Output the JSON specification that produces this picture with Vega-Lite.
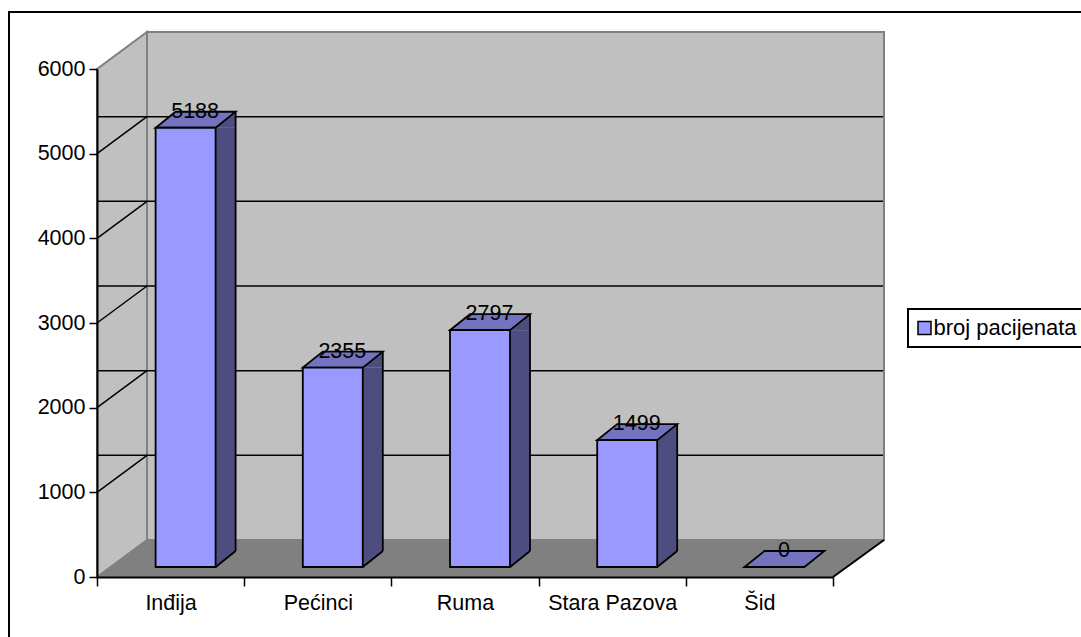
{
"$schema":"https://vega.github.io/schema/vega-lite/v6.json",
"width":736,"height":508,
"autosize":{"type":"none"},
"padding":{"left":97,"top":69,"right":248,"bottom":60},
"background":"#ffffff",
"config":{"view":{"stroke":null},"font":"Liberation Sans","text":{"font":"Liberation Sans"},"legend":{"strokeWidth":2}},
"datasets":{
"bars":[{"opstina":"Inđija","broj":5188},{"opstina":"Pećinci","broj":2355},{"opstina":"Ruma","broj":2797},{"opstina":"Stara Pazova","broj":1499},{"opstina":"Šid","broj":0}],
"ticks":[{"tick":1000},{"tick":2000},{"tick":3000},{"tick":4000},{"tick":5000}],
"base":[{"level":0,"top":6000}]
},
"layer":[
{"data":{"name":"base"},"mark":{"type":"point","shape":"M-88,100 L-88,-565 L1000,-565","size":4,"filled":false,"stroke":"#000000","strokeWidth":2,"opacity":1},
 "encoding":{"x":{"datum":"Inđija","type":"nominal","bandPosition":0,"scale":{"type":"band","domain":["Inđija","Pećinci","Ruma","Stara Pazova","Šid"],"paddingInner":0,"paddingOuter":0},
   "axis":{"title":null,"tickBand":"extent","domainColor":"#000000","domainWidth":2,"tickColor":"#000000","tickWidth":1.5,"tickSize":9,"labelFont":"Liberation Sans","labelFontSize":21.5,"labelColor":"#000000","labelPadding":6,"labelAngle":0,"grid":false,"zindex":1}},
  "y":{"datum":0,"type":"quantitative","scale":{"domain":[0,6000],"nice":false},
   "axis":{"title":null,"format":"d","values":[0,1000,2000,3000,4000,5000,6000],"domainColor":"#000000","domainWidth":2,"tickColor":"#000000","tickWidth":1.5,"tickSize":8,"labelFont":"Liberation Sans","labelFontSize":21.5,"labelColor":"#000000","labelPadding":4,"grid":false,"zindex":1}}}},
{"data":{"name":"base"},"mark":{"type":"point","shape":"M50,-37 L787,-37 L787,-545 L50,-545 Z","size":4,"filled":true,"fill":"#C0C0C0","stroke":"#808080","strokeWidth":2,"opacity":1},
 "encoding":{"x":{"datum":"Inđija","type":"nominal","bandPosition":0},"y":{"field":"level","type":"quantitative"}}},
{"data":{"name":"base"},"mark":{"type":"point","shape":"M0,0 L50,-37 L50,-545 L0,-508 Z","size":4,"filled":true,"fill":"#C0C0C0","stroke":"#808080","strokeWidth":2,"opacity":1},
 "encoding":{"x":{"datum":"Inđija","type":"nominal","bandPosition":0},"y":{"field":"level","type":"quantitative"}}},
{"data":{"name":"base"},"mark":{"type":"point","shape":"M0,0 L50,-37 L787,-37 L736,0 Z","size":4,"filled":true,"fill":"#808080","stroke":"#808080","strokeWidth":1,"opacity":1},
 "encoding":{"x":{"datum":"Inđija","type":"nominal","bandPosition":0},"y":{"field":"level","type":"quantitative"}}},
{"data":{"name":"base"},"mark":{"type":"point","shape":"M736,0 L787,-37","size":4,"filled":false,"stroke":"#000000","strokeWidth":2,"opacity":1},
 "encoding":{"x":{"datum":"Inđija","type":"nominal","bandPosition":0},"y":{"field":"level","type":"quantitative"}}},
{"data":{"name":"ticks"},"mark":{"type":"rule","stroke":"#000000","strokeWidth":1.5,"xOffset":50,"yOffset":-37,"x2Offset":50},
 "encoding":{"y":{"field":"tick","type":"quantitative"}}},
{"data":{"name":"ticks"},"mark":{"type":"point","shape":"M0,0 L50,-37","size":4,"filled":false,"stroke":"#000000","strokeWidth":1.5,"opacity":1},
 "encoding":{"x":{"datum":"Inđija","type":"nominal","bandPosition":0},"y":{"field":"tick","type":"quantitative"}}},
{"data":{"name":"bars"},"transform":[{"filter":"datum.broj > 0"}],"mark":{"type":"bar","width":20,"fill":"#4D4D80","xOffset":55,"yOffset":-10,"y2Offset":-26},
 "encoding":{"x":{"field":"opstina","type":"nominal"},"y":{"field":"broj","type":"quantitative"},"y2":{"datum":0}}},
{"data":{"name":"bars"},"transform":[{"filter":"datum.broj > 0"}],"mark":{"type":"point","shape":"M45,-10 L65,-26 L65,-10 Z","size":4,"filled":true,"fill":"#4D4D80","opacity":1},
 "encoding":{"x":{"field":"opstina","type":"nominal"},"y":{"field":"broj","type":"quantitative"}}},
{"data":{"name":"bars"},"transform":[{"filter":"datum.broj > 0"}],"mark":{"type":"point","shape":"M45,-10 L45,-26 L65,-26 Z","size":4,"filled":true,"fill":"#4D4D80","opacity":1},
 "encoding":{"x":{"field":"opstina","type":"nominal"},"y":{"datum":0}}},
{"data":{"name":"bars"},"transform":[{"filter":"datum.broj > 0"}],"mark":{"type":"point","shape":"M45,-10 L65,-26","size":4,"filled":false,"stroke":"#000000","strokeWidth":1.8,"opacity":1},
 "encoding":{"x":{"field":"opstina","type":"nominal"},"y":{"datum":0}}},
{"data":{"name":"bars"},"transform":[{"filter":"datum.broj > 0"}],"mark":{"type":"rule","stroke":"#000000","strokeWidth":1.8,"xOffset":65,"yOffset":-26,"y2Offset":-26},
 "encoding":{"x":{"field":"opstina","type":"nominal"},"y":{"field":"broj","type":"quantitative"},"y2":{"datum":0}}},
{"data":{"name":"bars"},"mark":{"type":"point","shape":"M-15,-10 L45,-10 L65,-26 L5,-26 Z","size":4,"filled":true,"fill":"#7373BF","stroke":"#000000","strokeWidth":1.8,"opacity":1},
 "encoding":{"x":{"field":"opstina","type":"nominal"},"y":{"field":"broj","type":"quantitative"}}},
{"data":{"name":"bars"},"transform":[{"filter":"datum.broj > 0"}],"mark":{"type":"bar","width":60,"stroke":"#000000","strokeWidth":1.8,"xOffset":15,"yOffset":-10,"y2Offset":-10},
 "encoding":{"x":{"field":"opstina","type":"nominal"},"y":{"field":"broj","type":"quantitative"},"y2":{"datum":0},
  "color":{"datum":"broj pacijenata","type":"nominal","scale":{"domain":["broj pacijenata"],"range":["#9999FF"]},
   "legend":{"title":null,"orient":"none","legendX":811,"legendY":240,"symbolType":"square","symbolSize":169,"symbolStrokeColor":"#000000","symbolStrokeWidth":1.5,"symbolOffset":-2.5,"labelFont":"Liberation Sans","labelFontSize":22,"labelColor":"#000000","strokeColor":"#000000","fillColor":"#ffffff","padding":8,"labelOffset":-2}}}},
{"data":{"name":"bars"},"mark":{"type":"text","align":"center","baseline":"alphabetic","font":"Liberation Sans","fontSize":21.5,"fill":"#000000","xOffset":24.5,"yOffset":-20},
 "encoding":{"x":{"field":"opstina","type":"nominal"},"y":{"field":"broj","type":"quantitative"},"text":{"field":"broj","type":"quantitative"}}}
]
}
